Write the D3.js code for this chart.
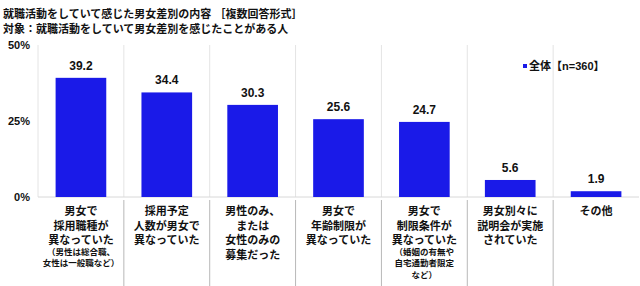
<!DOCTYPE html>
<html>
<head>
<meta charset="utf-8">
<script src="https://cdn.jsdelivr.net/npm/d3@7"></script>
<style>
    body { margin: 0; background: #fff; }
    svg { display: block; }
    text { font-family: "Liberation Sans", "Noto Sans CJK JP", sans-serif; font-weight: bold; fill: #111; }
</style>
</head>
<body>
<svg></svg>
<script>
const titleLines = [
    "就職活動をしていて感じた男女差別の内容 ［複数回答形式］",
    "対象：就職活動をしていて男女差別を感じたことがある人"
];
const categories = [
    "男女で\n採用職種が\n異なっていた",
    "採用予定\n人数が男女で\n異なっていた",
    "男性のみ、\nまたは\n女性のみの\n募集だった",
    "男女で\n年齢制限が\n異なっていた",
    "男女で\n制限条件が\n異なっていた",
    "男女別々に\n説明会が実施\nされていた",
    "その他"
];
const notes = [
    "（男性は総合職、\n女性は一般職など）",
    "",
    "",
    "",
    "（婚姻の有無や\n自宅通勤者限定\nなど）",
    "",
    ""
];
const values = [39.2, 34.4, 30.3, 25.6, 24.7, 5.6, 1.9];
const yTicks = [0, 25, 50];
const legendLabel = "全体【n=360】";

const width = 640, height = 286;
const margin = { top: 45, right: 1, bottom: 89, left: 38 };
const innerW = width - margin.left - margin.right;
const innerH = height - margin.top - margin.bottom;
const barColor = "#1a1ae8";

const svg = d3.select("svg").attr("width", width).attr("height", height);

// title
svg.selectAll("text.title")
    .data(titleLines)
    .enter()
    .append("text")
    .attr("class", "title")
    .attr("x", 3)
    .attr("y", (d, i) => 18 + i * 15)
    .style("font-size", "11px")
    .text(d => d);

const g = svg.append("g")
    .attr("transform", "translate(" + margin.left + "," + margin.top + ")");

const x = d3.scaleBand()
    .domain(categories)
    .range([0, innerW])
    .paddingInner(0.41)
    .paddingOuter(0.205);

const y = d3.scaleLinear().domain([0, 50]).range([innerH, 0]);

// category boundaries
const step = x.step();
const bounds = d3.range(categories.length + 1).map(i => x.range()[0] + i * step);

g.selectAll("line.grid")
    .data(bounds.slice(0, -1))
    .enter()
    .append("line")
    .attr("class", "grid")
    .attr("x1", d => d).attr("x2", d => d)
    .attr("y1", 0).attr("y2", innerH)
    .attr("stroke", "#e4e4e4")
    .attr("stroke-width", 1);

// dividers under the axis
g.selectAll("line.div")
    .data(bounds.slice(1, -1))
    .enter()
    .append("line")
    .attr("class", "div")
    .attr("x1", d => d).attr("x2", d => d)
    .attr("y1", innerH + 3).attr("y2", height - margin.top)
    .attr("stroke", "#b8b8b8")
    .attr("stroke-width", 1);

// baseline
g.append("line")
    .attr("x1", 0).attr("x2", innerW)
    .attr("y1", innerH).attr("y2", innerH)
    .attr("stroke", "#d8d8d8");

// y axis labels
const yAxis = d3.axisLeft(y).tickValues(yTicks).tickSize(0).tickPadding(8)
    .tickFormat(d => d + "%");
g.append("g")
    .call(yAxis)
    .call(s => s.select(".domain").remove())
    .selectAll("text")
    .style("font-size", "11px")
    .style("font-family", "\"Liberation Sans\", sans-serif")
    .attr("fill", "#111");

// bars
g.selectAll("rect.bar")
    .data(values)
    .enter()
    .append("rect")
    .attr("class", "bar")
    .attr("x", (d, i) => x(categories[i]))
    .attr("y", d => y(d))
    .attr("width", x.bandwidth())
    .attr("height", d => innerH - y(d))
    .attr("fill", barColor);

// value labels
g.selectAll("text.value")
    .data(values)
    .enter()
    .append("text")
    .attr("class", "value")
    .attr("x", (d, i) => x(categories[i]) + x.bandwidth() / 2)
    .attr("y", d => y(d) - 8)
    .attr("text-anchor", "middle")
    .style("font-size", "12px")
    .text(d => d.toFixed(1));

// category labels
const cat = g.selectAll("g.cat")
    .data(categories)
    .enter()
    .append("g")
    .attr("class", "cat")
    .attr("transform", d => "translate(" + (x(d) + x.bandwidth() / 2) + "," + (innerH + 18) + ")");

cat.each(function(d, i) {
    const el = d3.select(this);
    const lines = d.split("\n");
    lines.forEach((t, j) => {
        el.append("text")
            .attr("y", j * 14.5)
            .attr("text-anchor", "middle")
            .style("font-size", "11px")
            .text(t);
    });
    if (notes[i]) {
        notes[i].split("\n").forEach((t, j) => {
            el.append("text")
                .attr("y", lines.length * 14.5 - 4 + j * 11.5)
                .attr("text-anchor", "middle")
                .style("font-size", "8.5px")
                .text(t);
        });
    }
});

// legend
const legend = svg.append("g").attr("transform", "translate(523,61)");
legend.append("rect")
    .attr("width", 4).attr("height", 4)
    .attr("y", 3)
    .attr("fill", barColor);
legend.append("text")
    .attr("x", 6)
    .attr("y", 9)
    .style("font-size", "11px")
    .text(legendLabel);
</script>
</body>
</html>
